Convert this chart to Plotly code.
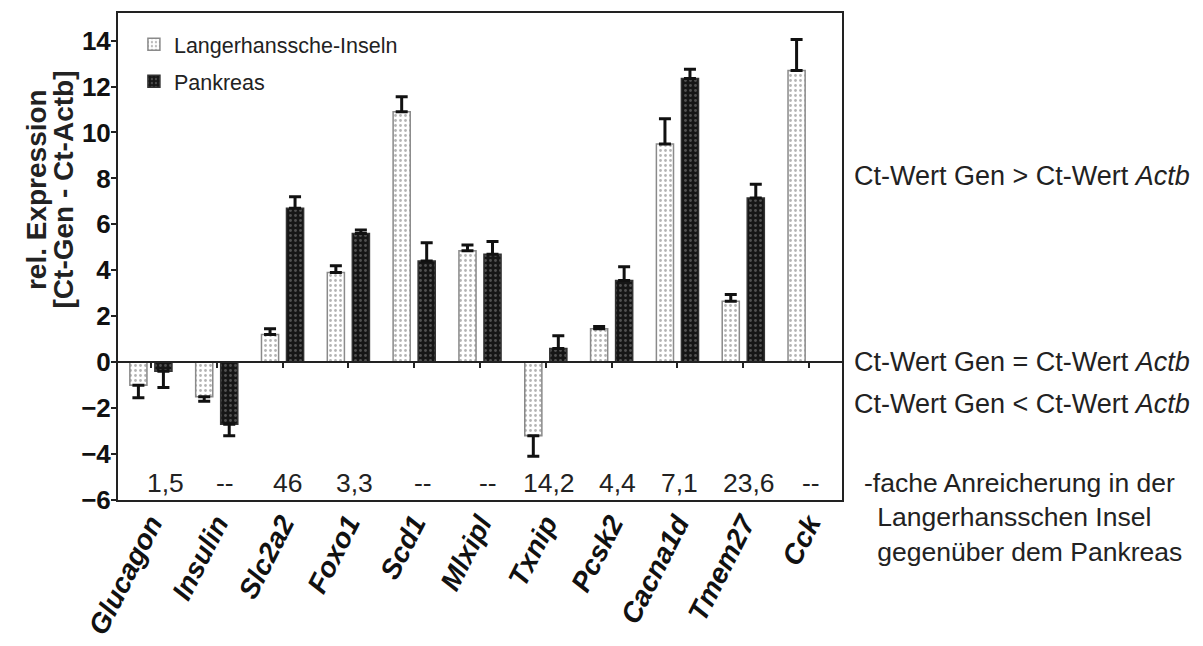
import plotly.graph_objects as go

genes = ["Glucagon", "Insulin", "Slc2a2", "Foxo1", "Scd1", "Mlxipl",
         "Txnip", "Pcsk2", "Cacna1d", "Tmem27", "Cck"]
inseln = [-1.0, -1.5, 1.2, 3.9, 10.9, 4.85, -3.2, 1.45, 9.5, 2.65, 12.7]
inseln_err = [0.55, 0.2, 0.25, 0.3, 0.65, 0.25, 0.9, 0.1, 1.1, 0.3, 1.35]
pankreas = [-0.4, -2.7, 6.7, 5.6, 4.4, 4.7, 0.6, 3.55, 12.35, 7.15, None]
pankreas_err = [0.7, 0.5, 0.5, 0.15, 0.8, 0.55, 0.55, 0.6, 0.4, 0.6, 0]
fold = ["1,5", "--", "46", "3,3", "--", "--", "14,2", "4,4", "7,1", "23,6", "--"]
fold_shift = [0.22, 0.12, 0.08, 0.1, 0.13, 0.12, 0.05, 0.09, 0.03, 0.09, 0.03]

FONT = "Liberation Sans, Arial, sans-serif"
INDENT = "\u2002"


def split_err(vals, errs):
    up, down = [], []
    for v, e in zip(vals, errs):
        if v is None:
            up.append(0); down.append(0)
        elif v >= 0:
            up.append(e); down.append(0)
        else:
            up.append(0); down.append(e)
    return up, down


iu, idn = split_err(inseln, inseln_err)
pu, pdn = split_err(pankreas, pankreas_err)

fig = go.Figure()
fig.add_trace(go.Bar(
    x=genes, y=inseln, name="Langerhanssche-Inseln", legendgroup="a",
    width=0.26, offset=-0.32,
    marker=dict(color="white", line=dict(color="#8a8a8a", width=1.5),
                pattern=dict(shape=".", fgcolor="#6a6a6a", bgcolor="white",
                             size=5, solidity=0.25)),
    error_y=dict(type="data", symmetric=False, array=iu, arrayminus=idn,
                 color="#111111", thickness=3, width=6),
))
fig.add_trace(go.Bar(
    x=genes, y=pankreas, name="Pankreas", legendgroup="b",
    width=0.26, offset=0.06,
    marker=dict(color="#161616", line=dict(color="#333333", width=1.5),
                pattern=dict(shape=".", fgcolor="#8c8c8c", bgcolor="#161616",
                             size=5, solidity=0.25)),
    error_y=dict(type="data", symmetric=False, array=pu, arrayminus=pdn,
                 color="#111111", thickness=3, width=6),
))

ymin, ymax = -6, 15.2
zero_pos = (0 - ymin) / (ymax - ymin)


def ypaper(v):
    return (v - ymin) / (ymax - ymin)


annotations = []
for i, (t, s) in enumerate(zip(fold, fold_shift)):
    annotations.append(dict(x=i + s, y=-5.25, xref="x2", yref="y", text=t,
                            showarrow=False, font=dict(size=26.5, color="#222")))

for yv, txt in [(8.1, "Ct-Wert Gen &gt; Ct-Wert <i>Actb</i>"),
                (0.0, "Ct-Wert Gen = Ct-Wert <i>Actb</i>"),
                (-1.8, "Ct-Wert Gen &lt; Ct-Wert <i>Actb</i>")]:
    annotations.append(dict(x=1.0138, y=ypaper(yv), xref="paper", yref="paper",
                            text=txt, xanchor="left", yanchor="middle",
                            showarrow=False,
                            font=dict(family=FONT, size=27, color="#222")))

annotations.append(dict(
    x=1.0276, y=ypaper(-6.78), xref="paper", yref="paper",
    text=("-fache Anreicherung in der<br>" + INDENT + "Langerhansschen Insel"
          "<br>" + INDENT + "gegenüber dem Pankreas"),
    align="left", xanchor="left", yanchor="middle", showarrow=False,
    font=dict(family=FONT, size=26.5, color="#222")))

for xv, txt in [(-0.1115, "rel. Expression"), (-0.0750, "[Ct-Gen - Ct-Actb]")]:
    annotations.append(dict(x=xv, y=0.637, xref="paper", yref="paper", text=txt,
                            textangle=-90, showarrow=False, xanchor="center",
                            yanchor="middle",
                            font=dict(family=FONT, size=28, color="#222",
                                      weight="bold")))

fig.update_layout(
    width=1195, height=638,
    margin=dict(l=110, r=361, t=5, b=146, autoexpand=False),
    paper_bgcolor="white", plot_bgcolor="white",
    font=dict(family=FONT, color="#222"),
    barmode="overlay",
    showlegend=True,
    legend=dict(x=0.022, y=0.978, xanchor="left", yanchor="top",
                bgcolor="rgba(0,0,0,0)", font=dict(size=21.5, color="#222"),
                tracegroupgap=6, itemwidth=30),
    xaxis=dict(showline=True, mirror=True, linecolor="#222", linewidth=2,
               ticks="", showgrid=False, tickangle=-63, automargin=False,
               ticklabelstandoff=-6,
               tickfont=dict(size=28, weight="bold", style="italic", color="#111"),
               range=[-0.5, 10.5]),
    xaxis2=dict(overlaying="x", anchor="free", position=zero_pos, side="bottom",
                range=[-0.5, 10.5], tickvals=list(range(11)), ticks="outside",
                ticklen=5, tickwidth=2, tickcolor="#222", showticklabels=False,
                showline=True, linecolor="#222", linewidth=2, showgrid=False,
                zeroline=False, automargin=False),
    yaxis=dict(range=[ymin, ymax], dtick=2, tick0=0, showline=True, mirror=True,
               linecolor="#222", linewidth=2, ticks="outside", ticklen=5,
               tickwidth=2, tickcolor="#222", showgrid=False, zeroline=False,
               automargin=False, ticklabelstandoff=-5,
               tickfont=dict(size=26, weight="bold", color="#111")),
    annotations=annotations,
)

fig.write_html("out.html")
